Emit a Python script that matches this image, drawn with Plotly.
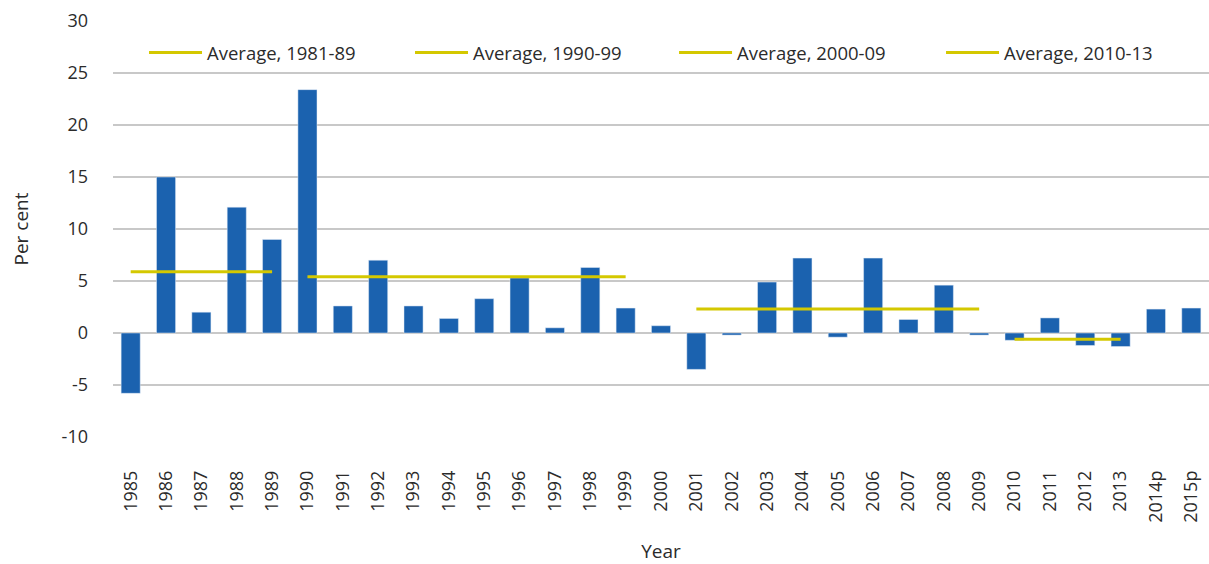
import plotly.graph_objects as go

years = ["1985", "1986", "1987", "1988", "1989", "1990", "1991", "1992", "1993", "1994",
         "1995", "1996", "1997", "1998", "1999", "2000", "2001", "2002", "2003", "2004",
         "2005", "2006", "2007", "2008", "2009", "2010", "2011", "2012", "2013", "2014p", "2015p"]
values = [-5.8, 15.0, 2.0, 12.1, 9.0, 23.4, 2.6, 7.0, 2.6, 1.4,
          3.3, 5.3, 0.5, 6.3, 2.4, 0.7, -3.5, -0.2, 4.9, 7.2,
          -0.4, 7.2, 1.3, 4.6, -0.2, -0.7, 1.45, -1.2, -1.3, 2.3, 2.4]

avg_names = ["Average, 1981-89", "Average, 1990-99", "Average, 2000-09", "Average, 2010-13"]
avg_start = ["1985", "1990", "2001", "2010"]
avg_end = ["1989", "1999", "2009", "2013"]
avg_values = [5.9, 5.4, 2.3, -0.6]

y_ticks = [-10, -5, 0, 5, 10, 15, 20, 25, 30]
y_tick_labels = ["-10", "-5", "0", "5", "10", "15", "20", "25", "30"]

BAR_COLOR = "#1B62AF"
AVG_COLOR = "#D4C800"
TEXT_COLOR = "#2B2B2B"
GRID_COLOR = "#C8C8C8"
FONT = "Open Sans"

legend_ids = ["legend", "legend2", "legend3", "legend4"]
legend_x = [0.0283, 0.2710, 0.5119, 0.7555]

fig = go.Figure()
fig.add_trace(go.Bar(x=years, y=values, marker_color=BAR_COLOR, showlegend=False))
for name, s, e, v, lid in zip(avg_names, avg_start, avg_end, avg_values, legend_ids):
    fig.add_trace(go.Scatter(x=[s, e], y=[v, v], mode="lines", name=name, legend=lid,
                             line=dict(color=AVG_COLOR, width=3)))

layout_legends = {}
for lid, lx in zip(legend_ids, legend_x):
    layout_legends[lid] = dict(
        xref="paper", yref="paper", x=lx, y=0.923,
        xanchor="left", yanchor="middle", itemwidth=53,
        font=dict(family=FONT, size=18.5, color=TEXT_COLOR),
        bgcolor="rgba(0,0,0,0)")

fig.update_layout(
    width=1209, height=564,
    margin=dict(l=113, r=0, t=21, b=127),
    paper_bgcolor="white", plot_bgcolor="white",
    font=dict(family=FONT, size=18, color=TEXT_COLOR),
    bargap=0.46,
    xaxis=dict(type="category", categoryorder="array", categoryarray=years,
               tickangle=-90, showgrid=False, showline=False, ticks="",
               ticklabelstandoff=29, automargin=False,
               tickfont=dict(size=18),
               title=dict(text="Year", standoff=24, font=dict(size=19))),
    yaxis=dict(range=[-10, 30], tickvals=y_ticks, ticktext=y_tick_labels,
               showgrid=True, gridcolor=GRID_COLOR,
               gridwidth=1.5, zeroline=True, zerolinecolor=GRID_COLOR, zerolinewidth=1.5,
               showline=False, ticks="", ticklabelstandoff=24, automargin=False,
               tickfont=dict(size=18),
               title=dict(text="Per cent", standoff=27, font=dict(size=19))),
    **layout_legends,
)

fig.write_html("out.html", config={"displayModeBar": False},
               post_script="document.body.style.margin='0';document.body.style.overflow='hidden';")
